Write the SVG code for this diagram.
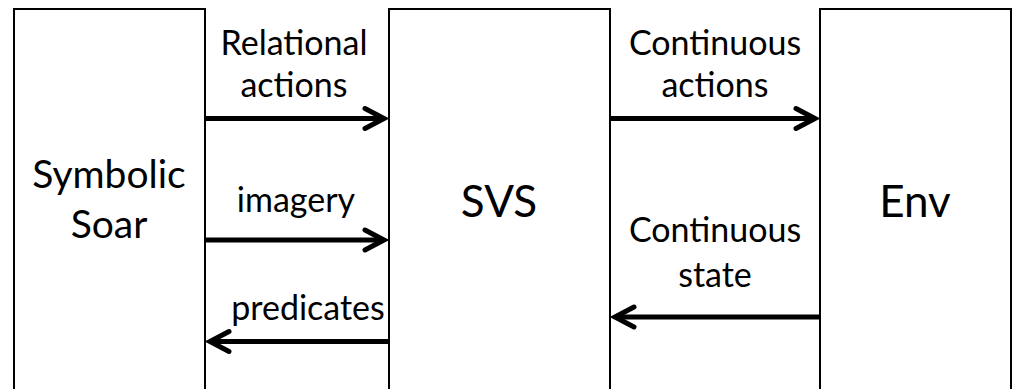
<svg xmlns="http://www.w3.org/2000/svg" width="1015" height="389" viewBox="0 0 1015 389">
  <style>
    .box { fill: #ffffff; stroke: #000000; stroke-width: 2; }
    .lbl { font-family: Lato, "Liberation Sans", sans-serif; fill: #000000; text-anchor: middle; }
    .edge { font-size: 34px; }
    .small { font-size: 39px; }
    .big { font-size: 44px; }
    .wire { fill: none; stroke: #000000; stroke-width: 5; marker-end: url(#head); }
  </style>
  <defs>
    <marker id="head" markerUnits="userSpaceOnUse" viewBox="-25 -15 30 30" refX="0" refY="0" markerWidth="30" markerHeight="30" orient="auto" overflow="visible">
      <path d="M-19,-10 L0,0 L-19,10" fill="none" stroke="#000000" stroke-width="5" stroke-linecap="round" stroke-linejoin="miter"/>
    </marker>
  </defs>
  <rect width="1015" height="389" fill="#ffffff"/>

  <g id="symbolic-soar">
    <rect class="box" x="14" y="9" width="191" height="400"/>
    <text class="lbl small" x="109" y="188">Symbolic</text>
    <text class="lbl small" x="109" y="238">Soar</text>
  </g>

  <g id="svs">
    <rect class="box" x="389" y="9" width="221" height="400"/>
    <text class="lbl big" x="499" y="217">SVS</text>
  </g>

  <g id="env">
    <rect class="box" x="820" y="9" width="191" height="400"/>
    <text class="lbl big" x="915" y="217">Env</text>
  </g>

  <g id="connectors">
    <path class="wire" d="M205,118.5 L384,118.5"/>
    <path class="wire" d="M205,240 L384,240"/>
    <path class="wire" d="M389,341.5 L210,341.5"/>
    <path class="wire" d="M610,118.5 L815,118.5"/>
    <path class="wire" d="M820,317 L615,317"/>
    <text class="lbl edge" x="294" y="55">Relational</text>
    <text class="lbl edge" x="294" y="97">actions</text>
    <text class="lbl edge" x="296" y="212">imagery</text>
    <text class="lbl edge" x="308" y="320">predicates</text>
    <text class="lbl edge" x="715" y="55">Continuous</text>
    <text class="lbl edge" x="715" y="97">actions</text>
    <text class="lbl edge" x="715" y="242">Continuous</text>
    <text class="lbl edge" x="715" y="287">state</text>
  </g>
</svg>
